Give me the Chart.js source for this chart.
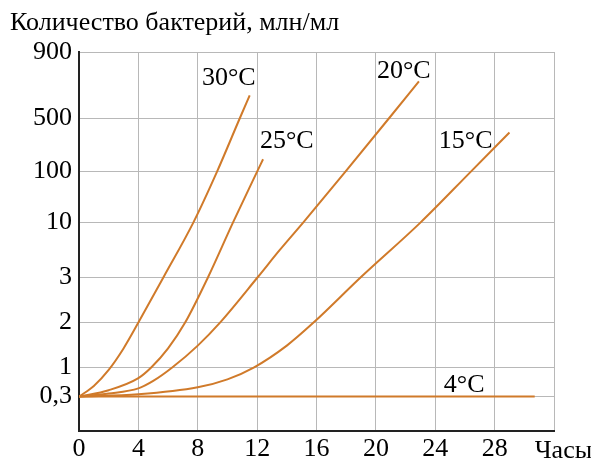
<!DOCTYPE html>
<html>
<head>
<meta charset="utf-8">
<script src="https://cdn.jsdelivr.net/npm/chart.js@4"></script>
<style>
  html, body { margin: 0; padding: 0; background: #fff; }
  #wrap { width: 591px; height: 459px; }
</style>
</head>
<body>
<div id="wrap"><canvas id="grafica" width="591" height="459"></canvas></div>
<script>
// eje Y no uniforme: etiquetas, valores reales y su posicion en el eje
const yTickLabels = ['0,3', '1', '2', '3', '10', '100', '500', '900'];
const yTickValues = [0.3, 1, 2, 3, 10, 100, 500, 900];
const yTickPos = [34.4, 63.7, 108.4, 154, 208.4, 259.4, 313, 379];

const xTicks = [0, 4, 8, 12, 16, 20, 24, 28, 32];

// curvas (horas, millones/ml)
const horas30 = [0, 1, 2, 3, 4, 5.7, 7.7, 9.3, 10.84, 11.5];
const bact30 = [0.3, 0.466, 0.9, 1.34, 2, 3, 10, 100, 500, 612];

const horas25 = [0, 2, 4, 4.88, 6, 7.15, 8.7, 10.37, 12.0, 12.4];
const bact25 = [0.3, 0.39, 0.64, 1, 1.34, 2, 3, 10, 100, 145];

const horas20 = [0, 2, 4, 5, 6.3, 8, 9.5, 12.05, 13.5, 15.1, 17.95, 20.9, 22.9];
const bact20 = [0.3, 0.34, 0.42, 0.57, 1, 1.4, 2, 3, 5.4, 10, 100, 500, 693];

const horas15 = [0, 4, 8, 10, 11.8, 14, 15.8, 19, 23, 26.4, 29];
const bact15 = [0.3, 0.33, 0.44, 0.61, 1, 1.4, 2, 3, 10, 100, 323];

const horas4 = [0, 30.7];
const bact4 = [0.3, 0.3];

// rotulos de las curvas
const rotulos = ['30°C', '25°C', '20°C', '15°C', '4°C'];
const rotuloHoras = [8.28, 12.19, 20.07, 24.24, 24.58];
const rotuloBact = [669, 201, 711, 201, 0.358];

const naranja = '#D07A2A';
const fuente = '"Liberation Serif", "Times New Roman", serif';

function toAxis(v) {
    const n = yTickValues.length;
    for (let i = 0; i < n - 1; i++) {
        const lo = yTickValues[i], hi = yTickValues[i + 1];
        if (v <= hi || i === n - 2) {
            const f = Math.log(v / lo) / Math.log(hi / lo);
            return yTickPos[i] + f * (yTickPos[i + 1] - yTickPos[i]);
        }
    }
}

function puntos(horas, bact) {
    return horas.map((h, i) => ({ x: h, y: toAxis(bact[i]) }));
}

function serie(nombre, horas, bact) {
    return {
        label: nombre,
        data: puntos(horas, bact),
        borderColor: naranja,
        borderWidth: 2,
        pointRadius: 0,
        fill: false,
        cubicInterpolationMode: 'monotone'
    };
}

const textos = {
    id: 'textos',
    afterDatasetsDraw(chart) {
        const ctx = chart.ctx;
        const sx = chart.scales.x, sy = chart.scales.y;
        ctx.save();
        ctx.fillStyle = '#000';
        ctx.textBaseline = 'alphabetic';
        ctx.textAlign = 'left';
        ctx.font = '26px ' + fuente;
        rotulos.forEach((t, i) => {
            ctx.fillText(t, sx.getPixelForValue(rotuloHoras[i]), sy.getPixelForValue(toAxis(rotuloBact[i])));
        });
        ctx.fillText('Количество бактерий, млн/мл', 10, 30);
        ctx.fillText('Часы', sx.getPixelForValue(30.7), chart.chartArea.bottom + 27);
        ctx.restore();
    }
};

new Chart(document.getElementById('grafica').getContext('2d'), {
    type: 'line',
    data: {
        datasets: [
            serie('30°C', horas30, bact30),
            serie('25°C', horas25, bact25),
            serie('20°C', horas20, bact20),
            serie('15°C', horas15, bact15),
            serie('4°C', horas4, bact4)
        ]
    },
    options: {
        responsive: false,
        animation: false,
        layout: { padding: { top: 52, right: 37, left: 0, bottom: 0 } },
        plugins: { legend: { display: false }, tooltip: { enabled: false } },
        scales: {
            x: {
                type: 'linear',
                min: 0,
                max: 32,
                afterBuildTicks: s => { s.ticks = xTicks.map(v => ({ value: v })); },
                afterFit: s => { s.height = 28; },
                grid: { color: '#B8B8B8', lineWidth: 1, drawTicks: false },
                border: { color: '#222', width: 2 },
                ticks: {
                    padding: 3,
                    color: '#000',
                    font: { family: fuente, size: 26 },
                    maxRotation: 0,
                    callback: v => (v === 32 ? '' : String(v))
                }
            },
            y: {
                type: 'linear',
                min: 0,
                max: 379,
                afterBuildTicks: s => { s.ticks = yTickPos.map(v => ({ value: v })); },
                afterFit: s => { s.width = 79; },
                grid: { color: '#B8B8B8', lineWidth: 1, drawTicks: false },
                border: { color: '#222', width: 2 },
                ticks: {
                    padding: 7,
                    color: '#000',
                    font: { family: fuente, size: 26 },
                    callback: (v, i) => yTickLabels[i]
                }
            }
        }
    },
    plugins: [textos]
});
</script>
</body>
</html>
